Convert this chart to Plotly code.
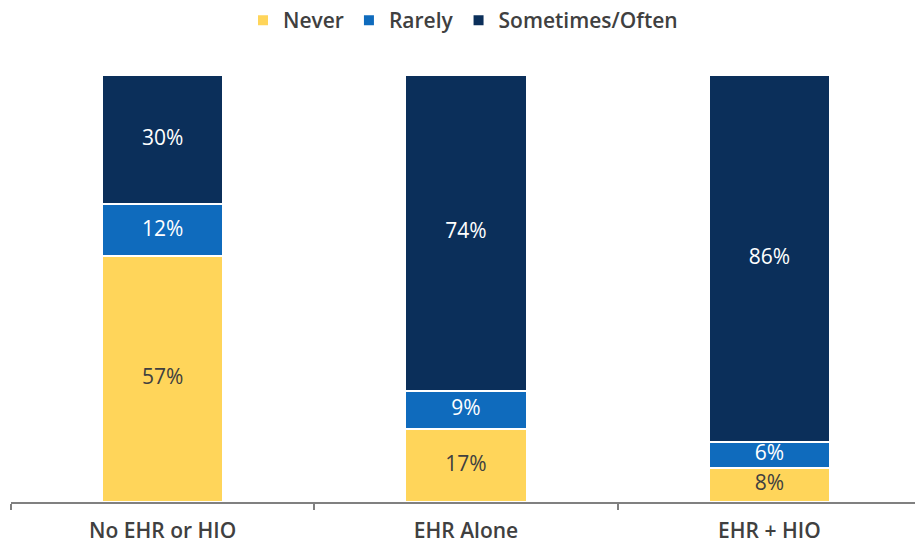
import plotly.graph_objects as go

categories = ["No EHR or HIO", "EHR Alone", "EHR + HIO"]
never = [57, 17, 8]
rarely = [12, 9, 6]
sometimes = [30, 74, 86]

series = [
    ("Never", never, "#FFD55A", "#404040"),
    ("Rarely", rarely, "#0F6BBD", "#FFFFFF"),
    ("Sometimes/Often", sometimes, "#0B2F5A", "#FFFFFF"),
]

totals = [sum(vals) for vals in zip(never, rarely, sometimes)]

fig = go.Figure()
for name, vals, color, tcolor in series:
    fig.add_trace(go.Bar(
        name=name,
        x=categories,
        y=vals,
        textposition="none",
        marker=dict(color=color, line=dict(color="white", width=2)),
        width=0.4,
        hoverinfo="skip",
    ))

# Segment labels placed at the middle of each normalized segment
base = [0.0] * len(categories)
for name, vals, color, tcolor in series:
    mids = []
    for i, v in enumerate(vals):
        share = v / totals[i] * 100
        mids.append(base[i] + share / 2)
        base[i] += share
    fig.add_trace(go.Scatter(
        x=categories,
        y=mids,
        mode="text",
        text=[f"{v}%" for v in vals],
        textposition="middle center",
        textfont=dict(family="Open Sans", size=21, color=tcolor),
        showlegend=False,
        hoverinfo="skip",
    ))

fig.update_layout(
    barmode="stack",
    barnorm="percent",
    width=915,
    height=544,
    margin=dict(l=11, r=0, t=75, b=42),
    paper_bgcolor="white",
    plot_bgcolor="white",
    legend=dict(
        orientation="h",
        x=0.50,
        xanchor="center",
        y=1.0,
        yref="container",
        yanchor="top",
        font=dict(family="Open Sans", size=21, color="#404040", weight=600),
        itemwidth=30,
        traceorder="normal",
    ),
    xaxis=dict(
        range=[-0.5, 2.48],
        automargin=False,
        showline=True,
        linecolor="#808080",
        linewidth=2,
        ticks="outside",
        tickson="boundaries",
        ticklen=6,
        tickcolor="#808080",
        tickwidth=2,
        ticklabelstandoff=9,
        tickfont=dict(family="Open Sans", size=21, color="#404040", weight=600),
        showgrid=False,
    ),
    yaxis=dict(
        range=[0, 100],
        visible=False,
        showgrid=False,
    ),
)

fig.write_html("out.html")
